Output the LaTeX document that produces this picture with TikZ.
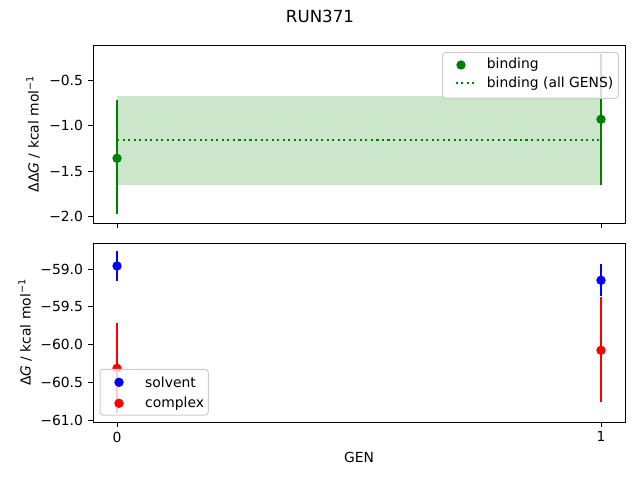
\documentclass[tikz,border=0pt]{standalone}
\usepackage{fontspec}
\setmainfont{DejaVu Sans}
\definecolor{mgreen}{RGB}{0,128,0}
\definecolor{mblue}{RGB}{0,0,255}
\definecolor{mred}{RGB}{255,0,0}
\definecolor{band}{RGB}{204,230,204}
\definecolor{legedge}{RGB}{204,204,204}
\tikzset{
  axframe/.style={draw=black, line width=0.9pt},
  tickln/.style={draw=black, line width=0.9pt},
  ticklab/.style={inner sep=0pt, font=\fontsize{13.89}{16}\selectfont},
  errbar/.style={line width=2.08pt},
  dot/.style={circle, inner sep=0pt, minimum size=9.4pt},
  legbox/.style={draw=legedge, line width=1pt, fill=white, fill opacity=0.8, rounded corners=3pt},
  legtext/.style={inner sep=0pt, anchor=west, font=\fontsize{13.89}{16}\selectfont},
  dotline/.style={line width=2.08pt, dash pattern=on 2.08pt off 3.44pt},
}
\begin{document}
\begin{tikzpicture}[x=1pt,y=-1pt]
\useasboundingbox (0,0) rectangle (640,480);
% title
\node[inner sep=0pt, font=\fontsize{16.67}{19}\selectfont] (title) at (320,16) {RUN371};

% ---------- top panel ----------
\fill[band] (117,96) rectangle (601,184.7);
\draw[mgreen, dotline] (117,139.7) coordinate (dl0) -- (601,139.7) coordinate (dl1);
\coordinate (g0t) at (117,100); \coordinate (g0b) at (117,214.3);
\coordinate (g1t) at (601,53.5); \coordinate (g1b) at (601,185);
\draw[mgreen, errbar] (g0t) -- (g0b);
\draw[mgreen, errbar] (g1t) -- (g1b);
\node[dot, fill=mgreen] (g0) at (117,158.3) {};
\node[dot, fill=mgreen] (g1) at (601,119.3) {};
\draw[axframe] (93,45) rectangle (625,223);
\foreach \yy/\lab in {80/−0.5, 125.7/−1.0, 171.3/−1.5, 216.7/−2.0}{
  \draw[tickln] (93,\yy) -- (88.1,\yy);
  \node[ticklab, anchor=east] at (83.2,\yy) {\lab};
}
\foreach \xx in {117,601}{ \draw[tickln] (\xx,223) -- (\xx,227.9); }
\node[rotate=90, inner sep=0pt, font=\fontsize{13.89}{16}\selectfont] (ylab1) at (33,134) {ΔΔ\textit{G} / kcal mol\textsuperscript{−1}};
% legend top
\draw[legbox] (442.7,52.3) rectangle (618.3,98.3);
\node[dot, fill=mgreen] (lg1) at (461,65) {};
\node[legtext] (lt1) at (486.7,65) {binding};
\draw[mgreen, dotline] (455.7,83.3) coordinate (ld0) -- (474.3,83.3) coordinate (ld1);
\node[legtext] (lt2) at (486.7,83.3) {binding (all GENS)};

% ---------- bottom panel ----------
\draw[mblue, errbar] (117,251) -- (117,280.7);
\node[dot, fill=mblue] (b0) at (117,266) {};
\draw[mblue, errbar] (601,264) -- (601,296);
\node[dot, fill=mblue] (b1) at (601,280.3) {};
\draw[mred, errbar] (117,323.3) -- (117,413.3);
\node[dot, fill=mred] (r0) at (117,368.3) {};
\draw[mred, errbar] (601,296.7) -- (601,401.7);
\node[dot, fill=mred] (r1) at (601,350.3) {};
\draw[axframe] (93,243.3) rectangle (625,422);
\foreach \yy/\lab in {269/−59.0, 306.7/−59.5, 344.3/−60.0, 382/−60.5, 420/−61.0}{
  \draw[tickln] (93,\yy) -- (88.1,\yy);
  \node[ticklab, anchor=east] at (83.2,\yy) {\lab};
}
\foreach \xx/\lab in {117/0, 601/1}{
  \draw[tickln] (\xx,422) -- (\xx,426.9);
  \node[ticklab, anchor=north] at (\xx,431.5) {\lab};
}
\node[rotate=90, inner sep=0pt, font=\fontsize{13.89}{16}\selectfont] (ylab2) at (25,332.5) {Δ\textit{G} / kcal mol\textsuperscript{−1}};
\node[inner sep=0pt, font=\fontsize{13.89}{16}\selectfont] (xlab) at (359,457) {GEN};
% legend bottom
\draw[legbox] (100,369.3) rectangle (208.3,415);
\node[dot, fill=mblue] (lb1) at (119,382.3) {};
\node[legtext] (lb1t) at (145,382.3) {solvent};
\node[dot, fill=mred] (lb2) at (119,403.3) {};
\node[legtext] (lb2t) at (145,403.3) {complex};
\end{tikzpicture}
\end{document}
